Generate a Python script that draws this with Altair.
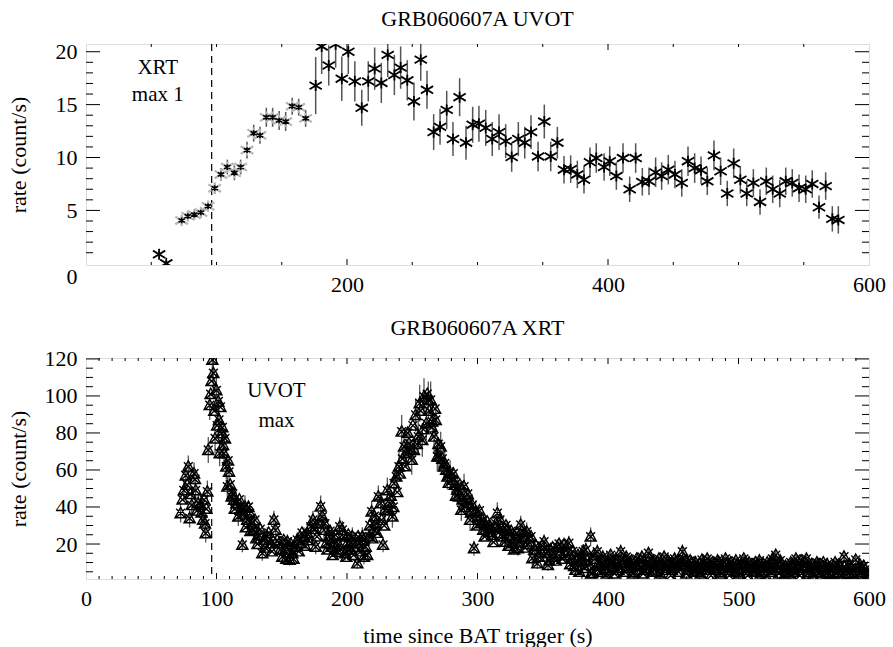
import altair as alt
import pandas as pd

# ---------------- UVOT (top panel) ----------------
UVOT_T = [56, 61.5, 73.3, 78, 83, 88, 93.5, 98.6, 103.4, 108.3,
          113.7, 118.5, 123.4, 128.5, 133.3, 138.2, 143, 148, 153, 158,
          163, 168.3, 176, 180.6, 186, 191.3, 196, 201, 206, 211.3,
          216.3, 221.2, 226.3, 231.2, 236.3, 241.1, 246.2, 251.3, 256.5, 261.3,
          266.4, 271.3, 276.4, 281.2, 286.3, 291.2, 296.3, 301.1, 306.3, 311.3,
          316.5, 321.6, 326.2, 331.3, 336.2, 341, 346.4, 351.2, 356.1, 361.2,
          366.3, 371.4, 376.5, 381.6, 386.2, 391, 397, 401.3, 406.4, 411.5,
          416.6, 421.2, 426.3, 431.4, 436.5, 441.1, 446.2, 451.3, 456.5, 461.3,
          466.4, 471.3, 476.1, 481.2, 486.3, 491.4, 496.3, 501.4, 506.3, 511.4,
          516.5, 521.3, 526.2, 531.6, 536.2, 541.2, 546.4, 551.5, 556.5, 561.7,
          566.8, 571.9, 576.5]
UVOT_RATE = [0.85, 0.0, 4.05, 4.46, 4.6, 4.8, 5.4, 7.1, 8.4, 9.1,
             8.55, 9.1, 10.7, 12.3, 12.1, 13.8, 13.8, 13.5, 13.4, 14.85,
             14.75, 13.7, 16.8, 20.5, 18.7, 20.7, 17.45, 20.0, 17.2, 14.7,
             17.2, 18.4, 17.05, 19.7, 17.8, 18.5, 17.3, 15.3, 19.25, 16.4,
             12.4, 12.9, 14.5, 11.75, 15.7, 11.4, 13.1, 13.2, 12.8, 11.75,
             12.4, 11.55, 10.05, 11.75, 11.4, 12.4, 10.1, 13.4, 10.1, 11.4,
             8.85, 8.9, 8.4, 7.9, 9.55, 9.95, 9.1, 9.65, 8.25, 9.95,
             7.0, 9.95, 7.7, 7.75, 8.6, 8.25, 8.85, 8.4, 7.6, 9.65,
             9.0, 8.8, 7.75, 10.2, 8.7, 6.6, 9.45, 7.9, 6.6, 7.6,
             5.8, 7.75, 7.0, 6.6, 7.75, 7.6, 7.1, 7.0, 7.5, 5.3,
             7.3, 4.2, 4.1]
UVOT_ERR = [0.3, 0.3, 0.4, 0.4, 0.4, 0.4, 0.45, 0.5, 0.6, 0.7,
            0.7, 0.7, 0.8, 0.8, 0.8, 0.9, 0.9, 0.9, 0.9, 0.8,
            0.8, 0.8, 2.7, 2.6, 1.9, 2.2, 2.1, 2.1, 1.9, 1.7,
            1.9, 2.0, 1.9, 2.1, 1.9, 2.0, 1.9, 1.8, 2.0, 1.8,
            1.7, 1.7, 1.8, 1.6, 1.8, 1.6, 1.7, 1.7, 1.7, 1.6,
            1.7, 1.6, 1.4, 1.6, 1.5, 1.6, 1.4, 1.6, 1.4, 1.5,
            1.3, 1.3, 1.3, 1.3, 1.4, 1.4, 1.3, 1.4, 1.3, 1.4,
            1.2, 1.4, 1.3, 1.3, 1.4, 1.3, 1.4, 1.3, 1.3, 1.4,
            1.4, 1.3, 1.3, 1.4, 1.3, 1.2, 1.4, 1.3, 1.2, 1.3,
            1.2, 1.3, 1.3, 1.3, 1.3, 1.3, 1.3, 1.3, 1.3, 1.1,
            1.3, 1.2, 1.3]

# ---------------- XRT (bottom panel), first set with error bars ----------------
XRT_T = [72.5, 75, 76.4, 78.4, 79.4, 81, 82.8, 84, 86, 87.9,
         89.7, 91.2, 91.7, 93, 93.7, 94.8, 96.8, 97.6, 98.9, 99.9,
         101.4, 101.9, 102.4, 103.9, 105, 105.7, 107.5, 108.3, 109.6, 111.6,
         113.4, 115.2, 116.7, 118.5, 119.8, 121.8, 123.6, 125.4, 127, 128.7,
         130.5, 132.6, 135.1, 136.4, 138.9, 141.5, 144, 145.3, 147.9, 150.4,
         152.5, 154.3, 156.1, 158.1, 160.2, 161.9, 164.5, 167, 169.6, 172.2,
         173.9, 176, 178, 179.8, 181.1, 182.4, 184.1, 186.2, 188.3, 190,
         192.6, 194.4, 196.4, 198.5, 200.2, 202.1, 204.1, 206.1, 207.9, 209.7,
         211.7, 213, 214.3, 216.9, 218.9, 220.7, 222, 224, 225.8, 227.6,
         229.1, 230.9, 232.7, 234.8, 236, 237.8, 239.8, 241.9, 243.7, 245.4,
         247.5, 249.6, 251.3, 252.6, 254.6, 255.7, 257.7, 259, 260.8, 262.3,
         264.1, 265.4, 266.7, 268, 269.2, 270.5, 271.8, 274.3, 274.9, 276.9,
         279, 280.7, 282.5, 284.5, 285.8, 287.6, 289.7, 291.7, 293.5, 294.3,
         296, 297.3, 298.6, 300.4, 302.5, 304.4, 306.3, 308.8, 311.3, 313.2,
         315.2, 317.2, 319, 320.8, 322.8, 324.9, 326.7, 329.3, 331, 333.1,
         335.1, 337.7, 339.5, 342, 343.8, 345.8, 348.4, 351, 354, 356.1,
         358.6, 361.2, 363.8, 366.3, 368.8, 370, 372.5, 375, 377, 379.5,
         381, 383, 385, 386.7, 388, 390, 391.8, 394, 396, 398,
         400, 402, 404, 406, 408, 409.7, 412, 414, 416, 418,
         420, 422, 424, 426, 428, 431, 433, 435, 437, 439,
         441, 443, 445, 447, 449, 451, 453, 455, 457, 459,
         461, 463, 465, 467, 469, 472, 474, 476, 478, 480,
         482, 484, 486, 488, 490, 492, 494, 496, 498, 500,
         502, 504, 506, 508, 510, 512, 514, 516, 518, 520,
         522, 524, 526, 528.5, 530, 532, 534, 536, 538, 540,
         542, 544, 546, 548, 550, 552, 554, 556, 558, 560,
         562, 564, 566, 568, 570, 572, 574, 576, 578, 580.8,
         583, 585, 587, 589.8, 592, 594, 596, 598]
XRT_RATE = [36.6, 49, 57, 61.8, 33.9, 41, 58, 49, 42, 41,
            33, 31, 25.8, 48.3, 70.8, 95, 119.5, 112.3, 77, 103,
            97, 87, 69, 79.8, 73.5, 69, 61.8, 51, 59, 45.6,
            43.8, 42, 34.8, 38.4, 19.5, 40.2, 33, 36.6, 31, 27.6,
            23, 24.9, 15, 22.2, 24, 20.4, 33, 27.6, 20.4, 13.1,
            16.8, 21.2, 11.4, 15, 18.5, 22.2, 20.4, 24, 25.8, 29.4,
            33, 18.5, 31.2, 40.2, 34.8, 27.6, 20.4, 24, 18.5, 21.2,
            15.8, 29.4, 27.6, 15, 20.4, 16.8, 24, 18.5, 9.5, 20.4,
            24, 13.1, 18.5, 24, 37.5, 27.6, 31.2, 45.6, 42, 19.5,
            38.4, 49, 42, 34.8, 52.8, 56.4, 61.8, 80.7, 72.6, 69,
            74.4, 65.4, 70.8, 89.7, 78, 96, 76.2, 99.6, 85.2, 97.8,
            97.8, 86.1, 78, 87, 67.2, 67.2, 72.6, 61.8, 63.6, 56.4,
            58.2, 54.6, 51.9, 49.2, 45.6, 38.4, 51, 43.8, 42, 33,
            41, 17.7, 37.5, 34.8, 31.2, 27.6, 30.3, 26.6, 24.9, 28.5,
            36.6, 33, 24, 21.2, 27.6, 24.9, 20.4, 23, 17.7, 30.3,
            24, 26.6, 23, 12.3, 16.8, 9.5, 15.8, 21.2, 8.6, 16.8,
            13.1, 18.5, 15, 19.5, 16.8, 20.4, 12, 6, 14, 10.5,
            16, 16.8, 8.6, 24, 4.3, 12, 15.8, 9, 13, 7,
            11, 14, 8, 12, 6, 15.8, 10, 13, 7, 11,
            5, 12, 9, 13, 6, 15, 9, 11, 5, 12,
            8, 13, 7, 10, 6, 12, 8, 11, 15.8, 9,
            6, 11, 7, 10, 5, 11.4, 8, 12, 6, 10,
            7, 11, 5, 9, 12, 6, 10, 7, 11, 5,
            9, 12, 6, 10, 7, 9, 5, 11, 8, 6,
            10, 7, 12, 14, 9, 11, 6, 8, 5, 10,
            7, 12, 6, 11, 8, 12, 5, 9, 7, 10,
            5, 8, 6, 9, 4, 7, 10, 5, 8, 13.1,
            6, 9, 4, 11.4, 7, 5, 8, 4]
XRT_ERR = [5, 6, 6, 6, 5, 5, 6, 6, 5, 5,
           5, 5, 5, 6, 7, 8, 9, 9, 8, 9,
           8, 8, 7, 8, 7, 7, 7, 6, 7, 6,
           6, 6, 5, 6, 4, 6, 5, 5, 5, 5,
           4, 5, 4, 4, 5, 4, 5, 5, 4, 4,
           4, 4, 3, 4, 4, 4, 4, 5, 5, 5,
           5, 4, 5, 6, 5, 5, 4, 5, 4, 4,
           4, 5, 5, 4, 4, 4, 5, 4, 3, 4,
           5, 4, 4, 5, 6, 5, 5, 6, 6, 4,
           6, 7, 6, 6, 7, 7, 8, 9, 8, 8,
           8, 8, 8, 9, 9, 10, 9, 10, 9, 10,
           10, 9, 9, 9, 8, 8, 8, 8, 8, 7,
           7, 7, 7, 7, 7, 6, 7, 6, 6, 6,
           6, 4, 6, 6, 5, 5, 5, 5, 5, 5,
           6, 5, 5, 4, 5, 5, 4, 5, 4, 5,
           5, 5, 5, 4, 4, 3, 4, 4, 3, 4,
           4, 4, 4, 4, 4, 4, 3, 3, 3, 3,
           4, 4, 3, 5, 2, 3, 4, 3, 3, 3,
           3, 3, 3, 3, 3, 4, 3, 3, 3, 3,
           3, 3, 3, 3, 3, 3, 3, 3, 3, 3,
           3, 3, 3, 3, 3, 3, 3, 3, 4, 3,
           3, 3, 3, 3, 3, 3, 3, 3, 3, 3,
           3, 3, 3, 3, 3, 3, 3, 3, 3, 3,
           3, 3, 3, 3, 3, 3, 3, 3, 3, 3,
           3, 3, 3, 3, 3, 3, 3, 3, 3, 3,
           3, 3, 3, 3, 3, 3, 3, 3, 3, 3,
           3, 3, 3, 3, 3, 3, 3, 3, 3, 3,
           3, 3, 3, 3, 3, 3, 3, 3]

# ---------------- XRT, second (overlapping) set ----------------
XRT2_T = [74, 77.5, 80, 83.5, 85, 88.5, 90.5, 92.2, 95.5, 96.2,
          98.3, 100.5, 103, 104.5, 106.5, 108.9, 110.5, 112.5, 114, 117.5,
          120.5, 122.5, 124.5, 126, 129.5, 131.5, 133.5, 137.5, 140, 142.5,
          146.5, 149, 151.5, 153.5, 155, 157, 159, 163, 165.5, 168,
          170.5, 175, 177, 183, 185, 187, 189, 191, 193.5, 195.5,
          197.5, 199.5, 201, 203, 205, 208.5, 210.5, 212.5, 215.5, 217.5,
          219.5, 221, 223, 226.5, 228.5, 231.5, 233.5, 235.5, 238.5, 240.5,
          242.5, 244.5, 246.5, 248.5, 250.5, 253.5, 256.5, 258.5, 261.5, 263,
          265, 267.5, 270, 273, 276, 278, 281.5, 283.5, 286.5, 288.5,
          290.5, 292.5, 295, 299.5, 301.5, 303.5, 305.5, 307.5, 310, 312.3,
          314, 316, 318, 321.8, 323.8, 325.8, 328, 330, 332, 334,
          336.5, 338.5, 341, 344.8, 347, 349.5, 352.5, 355, 357.5, 360,
          362.5, 365, 367.5, 371, 373, 374, 376, 378, 380, 382,
          384, 387, 389, 392, 393, 395, 397, 399, 401, 403,
          405, 407, 409, 411, 413, 415, 417, 419, 421, 423,
          425, 427, 429, 430, 432, 434, 436, 438, 440, 442,
          444, 446, 448, 450, 452, 454, 456, 458, 460, 462,
          464, 466, 468, 470, 471, 473, 475, 477, 479, 481,
          483, 485, 487, 489, 491, 493, 495, 497, 499, 501,
          503, 505, 507, 509, 511, 513, 515, 517, 519, 521,
          523, 525, 527, 529, 531, 533, 535, 537, 539, 541,
          543, 545, 547, 549, 551, 553, 555, 557, 559, 561,
          563, 565, 567, 569, 571, 573, 575, 577, 579, 581,
          584, 586, 588, 590, 593, 595, 597, 599]
XRT2_RATE = [44, 52, 47, 55, 38, 37, 44, 39, 101, 108,
             92, 84, 94, 83, 77, 65, 52, 47, 39, 44,
             36, 29, 40, 27, 33, 20, 28, 18, 26, 16,
             22, 17, 22, 12, 17, 20, 12, 16, 26, 19,
             22, 28, 24, 31, 17, 27, 14, 25, 20, 17,
             24, 13, 25, 21, 14, 24, 16, 22, 14, 30,
             23, 35, 26, 33, 30, 38, 46, 40, 48, 58,
             66, 62, 80, 71, 84, 74, 92, 82, 101, 92,
             83, 93, 74, 66, 60, 53, 58, 46, 52, 44,
             40, 47, 37, 30, 38, 33, 24, 32, 29, 21,
             31, 26, 29, 30, 19, 27, 17, 26, 21, 27,
             18, 20, 24, 19, 13, 19, 15, 11, 18, 11,
             20, 12, 14, 9, 16, 8, 11, 5, 13, 7,
             11, 4, 14, 6, 10, 5, 11, 4, 6, 10,
             4, 9, 7, 12, 5, 8, 10, 4, 8, 6,
             11, 4, 9, 7, 12, 5, 8, 10, 4, 9,
             6, 11, 3, 8, 10, 5, 9, 12, 4, 8,
             10, 5, 7, 9, 4, 10, 6, 8, 3, 9,
             6, 10, 4, 7, 9, 3, 8, 5, 9, 4,
             7, 10, 3, 8, 5, 10, 7, 4, 9, 3,
             8, 5, 10, 6, 4, 9, 3, 7, 4, 9,
             5, 8, 3, 7, 10, 4, 8, 3, 6, 9,
             3, 10, 4, 7, 3, 8, 4, 6, 3, 8,
             4, 7, 3, 6, 9, 3, 6, 3]

# markers of maximum
DASH_T = [96.3]
TOP_NOTE_T = [55, 55]
TOP_NOTE_V = [17.9, 15.3]
TOP_NOTE_TXT = ["XRT", "max 1"]
BOT_NOTE_T = [146, 146]
BOT_NOTE_V = [99.6, 83.4]
BOT_NOTE_TXT = ["UVOT", "max"]

# ticks / labels
TOP_X_LABELS = [200, 400, 600]
TOP_X_MAJOR = [200, 400]
TOP_X_MINOR = [50, 100, 150, 250, 300, 350, 450, 500, 550]
TOP_Y_LABELS = [0, 5, 10, 15, 20]
TOP_Y_MAJOR = [5, 10, 15, 20]
TOP_Y_MINOR = [v for v in range(1, 21) if v % 5 != 0]
BOT_X_LABELS = [0, 100, 200, 300, 400, 500, 600]
BOT_X_MAJOR = [100, 200, 300, 400, 500]
BOT_X_MINOR = [v for v in range(10, 600, 10) if v % 100 != 0]
BOT_Y_LABELS = [20, 40, 60, 80, 100, 120]
BOT_Y_MAJOR = [20, 40, 60, 80, 100, 120]
BOT_Y_MINOR = [v for v in range(5, 120, 5) if v % 20 != 0]

FONT = "Liberation Serif"
W, H = 783, 221
AST = "M0,-0.9L0,0.9M-1,-0.6L1,0.6M-1,0.6L1,-0.6"
TRIX = "M0,-1L0.95,0.75L-0.95,0.75Z M-0.75,-0.75L0.75,0.75M-0.75,0.75L0.75,-0.75"

n = min(len(UVOT_T), len(UVOT_RATE), len(UVOT_ERR))
uv = pd.DataFrame({"t": UVOT_T[:n], "rate": UVOT_RATE[:n], "err": UVOT_ERR[:n]})
uv["lo"] = uv["rate"] - uv["err"]
uv["hi"] = uv["rate"] + uv["err"]
uv["early"] = (uv["t"] > 70) & (uv["t"] < 170)

m = min(len(XRT_T), len(XRT_RATE), len(XRT_ERR))
xr = pd.DataFrame({"t": XRT_T[:m], "rate": XRT_RATE[:m], "err": XRT_ERR[:m]})
xr["lo"] = xr["rate"] - xr["err"]
xr["hi"] = xr["rate"] + xr["err"]

k = min(len(XRT2_T), len(XRT2_RATE))
xr2 = pd.DataFrame({"t": XRT2_T[:k], "rate": XRT2_RATE[:k]})


def make_encoders(ydom, xlabels, ylabels, xtitle, zero_offset):
    xs = alt.Scale(domain=[0, 600], nice=False, zero=False)
    ys = alt.Scale(domain=ydom, nice=False, zero=False)
    xaxis = alt.Axis(values=xlabels, ticks=False, domain=False, grid=False,
                     labelFont=FONT, labelFontSize=22, labelColor="black",
                     labelPadding=9, labelFlush=False, labelOverlap=False,
                     format="d", title=xtitle, titleFont=FONT, titleFontSize=22,
                     titleFontWeight="normal", titleColor="black", titlePadding=16)
    ykw = dict(values=ylabels, ticks=False, domain=False, grid=False,
               labelFont=FONT, labelFontSize=22, labelColor="black",
               labelPadding=9, labelFlush=False, labelOverlap=False,
               format="d", title="rate (count/s)", titleFont=FONT,
               titleFontSize=22, titleFontWeight="normal", titleColor="black",
               titleX=-68, titleY=H / 2, titleBaseline="middle")
    if zero_offset:
        ykw["labelOffset"] = {"condition": {"test": "datum.value === 0", "value": 13}, "value": 0}
    yaxis = alt.Axis(**ykw)

    def X(field="t"):
        return alt.X(field + ":Q", scale=xs, axis=xaxis)

    def Y(field="rate"):
        return alt.Y(field + ":Q", scale=ys, axis=yaxis)

    return X, Y


def tick_layers(X, Y, xmaj, xmin, ymaj, ymin, xlen, ylen):
    out = []
    for vals, length in ((xmaj, xlen[0]), (xmin, xlen[1])):
        d = pd.DataFrame({"t": vals})
        out.append(alt.Chart(d).mark_rule(color="black", strokeWidth=1).encode(
            x=X(), y=alt.value(H), y2=alt.value(H - length)))
        out.append(alt.Chart(d).mark_rule(color="black", strokeWidth=1).encode(
            x=X(), y=alt.value(0), y2=alt.value(length)))
    for vals, length in ((ymaj, ylen[0]), (ymin, ylen[1])):
        d = pd.DataFrame({"rate": vals})
        out.append(alt.Chart(d).mark_rule(color="black", strokeWidth=1).encode(
            y=Y(), x=alt.value(0), x2=alt.value(length)))
        out.append(alt.Chart(d).mark_rule(color="black", strokeWidth=1).encode(
            y=Y(), x=alt.value(W), x2=alt.value(W - length)))
    return out


# ---------------- top panel ----------------
X1, Y1 = make_encoders([-0.16, 20.73], TOP_X_LABELS, TOP_Y_LABELS, "", True)
ticks1 = tick_layers(X1, Y1, TOP_X_MAJOR, TOP_X_MINOR, TOP_Y_MAJOR, TOP_Y_MINOR, (6, 3), (14, 7))
err1 = alt.Chart(uv).mark_rule(color="#555555", strokeWidth=1.5, clip=True).encode(
    x=X1(), y=Y1("lo"), y2="hi:Q")
pts_black = alt.Chart(uv).transform_filter("!datum.early").mark_point(
    shape=AST, size=150, filled=False, stroke="black", strokeWidth=1.8, opacity=1, clip=True).encode(
    x=X1(), y=Y1())
pts_grey = alt.Chart(uv).transform_filter("datum.early").mark_point(
    shape=AST, size=160, filled=False, stroke="#b5b5b5", strokeWidth=2.2, opacity=1, clip=True).encode(
    x=X1(), y=Y1())
pts_grey_in = alt.Chart(uv).transform_filter("datum.early").mark_point(
    shape=AST, size=40, filled=False, stroke="black", strokeWidth=1.6, opacity=1, clip=True).encode(
    x=X1(), y=Y1())
dash1 = alt.Chart(pd.DataFrame({"t": DASH_T})).mark_rule(
    color="black", strokeWidth=1.2, strokeDash=[7, 5]).encode(
    x=X1(), y=alt.value(0), y2=alt.value(H))
note1 = alt.Chart(pd.DataFrame({"t": TOP_NOTE_T, "rate": TOP_NOTE_V, "txt": TOP_NOTE_TXT})).mark_text(
    font=FONT, fontSize=21, color="black", align="center", baseline="alphabetic").encode(
    x=X1(), y=Y1(), text="txt:N")

top = alt.layer(*ticks1, dash1, err1, pts_grey, pts_grey_in, pts_black, note1).properties(
    width=W, height=H,
    title=alt.TitleParams("GRB060607A UVOT", font=FONT, fontSize=22, fontWeight="normal",
                          color="black", anchor="middle", offset=10))

# ---------------- bottom panel ----------------
X2, Y2 = make_encoders([1.1, 120.5], BOT_X_LABELS, BOT_Y_LABELS, "time since BAT trigger (s)", False)
ticks2 = tick_layers(X2, Y2, BOT_X_MAJOR, BOT_X_MINOR, BOT_Y_MAJOR, BOT_Y_MINOR, (6, 3), (14, 7))
err2 = alt.Chart(xr).mark_rule(color="#555555", strokeWidth=1.3, clip=True).encode(
    x=X2(), y=Y2("lo"), y2="hi:Q")
pts2 = alt.Chart(xr).mark_point(
    shape=TRIX, size=140, filled=False, stroke="black", strokeWidth=1.4, opacity=1, clip=True).encode(
    x=X2(), y=Y2())
pts2b = alt.Chart(xr2).mark_point(
    shape=TRIX, size=140, filled=False, stroke="black", strokeWidth=1.4, opacity=1, clip=True).encode(
    x=X2(), y=Y2())
dash2 = alt.Chart(pd.DataFrame({"t": DASH_T, "rate": [53]})).mark_rule(
    color="black", strokeWidth=1.2, strokeDash=[7, 5]).encode(
    x=X2(), y=Y2(), y2=alt.value(H))
note2 = alt.Chart(pd.DataFrame({"t": BOT_NOTE_T, "rate": BOT_NOTE_V, "txt": BOT_NOTE_TXT})).mark_text(
    font=FONT, fontSize=21, color="black", align="center", baseline="alphabetic").encode(
    x=X2(), y=Y2(), text="txt:N")

bottom = alt.layer(*ticks2, dash2, err2, pts2b, pts2, note2).properties(
    width=W, height=H,
    title=alt.TitleParams("GRB060607A XRT", font=FONT, fontSize=22, fontWeight="normal",
                          color="black", anchor="middle", offset=8))

chart = alt.vconcat(top, bottom, spacing=20).properties(
    padding={"left": 6, "top": 7, "right": 5, "bottom": 5}
).configure_view(stroke="black", strokeWidth=1.2).configure(background="white")

chart.save("out.html", embed_options={"renderer": "svg", "actions": False})
